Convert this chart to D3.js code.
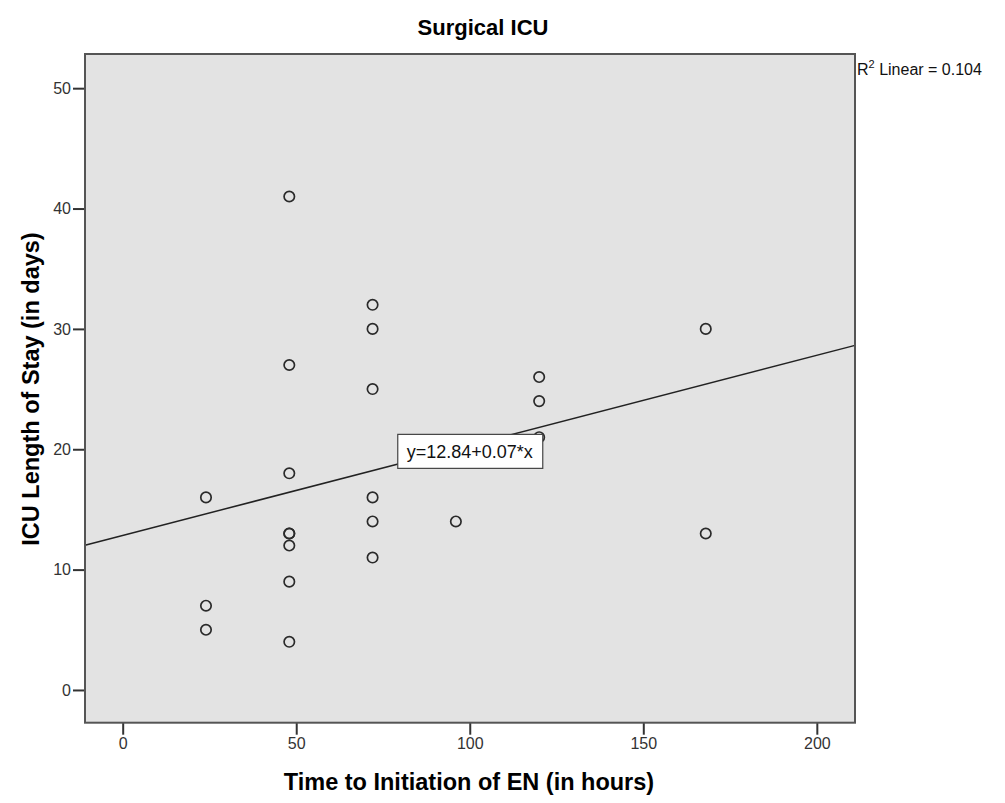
<!DOCTYPE html>
<html>
<head>
<meta charset="utf-8">
<script src="https://cdn.jsdelivr.net/npm/d3@7"></script>
<style>
  body { margin: 0; background: #fff; }
  text { font-family: "Liberation Sans", Arial, sans-serif; }
</style>
</head>
<body>
<div id="chart"></div>
<script>
// données
var hours = [24, 24, 24, 48, 48, 48, 48, 48, 48, 48, 48, 72, 72, 72, 72, 72, 72, 96, 120, 120, 120, 168, 168];
var stay  = [16, 7, 5, 41, 27, 18, 13, 13, 12, 9, 4, 32, 30, 25, 16, 14, 11, 14, 26, 24, 21, 30, 13];
var xTicks = [0, 50, 100, 150, 200];
var yTicks = [0, 10, 20, 30, 40, 50];

var width = 1005, height = 803;
// attention : "top" est réservé (window.top), donc autres noms
var plotL = 85, plotT = 54, plotR = 855, plotB = 722.7;

var svg = d3.select("#chart").append("svg")
    .attr("width", width)
    .attr("height", height);

var x = d3.scaleLinear().domain([-10.86, 211.0]).range([plotL, plotR]);
var y = d3.scaleLinear().domain([-2.72, 52.84]).range([plotB, plotT]);

// fond gris de la zone de tracé
svg.append("rect")
    .attr("x", plotL).attr("y", plotT)
    .attr("width", plotR - plotL).attr("height", plotB - plotT)
    .attr("fill", "#e3e3e3");

// régression linéaire (moindres carrés)
var mx = d3.mean(hours), my = d3.mean(stay);
var sxy = d3.sum(hours, function(d, i) { return (d - mx) * (stay[i] - my); });
var sxx = d3.sum(hours, function(d) { return (d - mx) * (d - mx); });
var syy = d3.sum(stay, function(d) { return (d - my) * (d - my); });
var slope = sxy / sxx;
var intercept = my - slope * mx;
var r2 = sxy * sxy / (sxx * syy);

var xd = x.domain();
svg.append("line")
    .attr("x1", x(xd[0])).attr("y1", y(intercept + slope * xd[0]))
    .attr("x2", x(xd[1])).attr("y2", y(intercept + slope * xd[1]))
    .attr("stroke", "#222")
    .attr("stroke-width", 1.5);

// points
svg.append("g").selectAll("circle")
    .data(hours)
    .join("circle")
    .attr("cx", function(d) { return x(d); })
    .attr("cy", function(d, i) { return y(stay[i]); })
    .attr("r", 5.2)
    .attr("fill", "none")
    .attr("stroke", "#2a2a2a")
    .attr("stroke-width", 1.7);

// étiquette de l'équation
var lx = 100;
var eq = svg.append("g")
    .attr("transform", "translate(" + x(lx) + "," + y(intercept + slope * lx) + ")");
eq.append("rect")
    .attr("x", -72).attr("y", -11)
    .attr("width", 145).attr("height", 34)
    .attr("fill", "#fff")
    .attr("stroke", "#444")
    .attr("stroke-width", 1.2);
eq.append("text")
    .attr("x", 0).attr("y", 13)
    .attr("text-anchor", "middle")
    .attr("font-size", 18)
    .attr("fill", "#111")
    .text("y=" + intercept.toFixed(2) + "+" + slope.toFixed(2) + "*x");

// axes
var xAxis = svg.append("g")
    .attr("transform", "translate(0," + plotB + ")")
    .call(d3.axisBottom(x).tickValues(xTicks).tickSize(12).tickPadding(3));
var yAxis = svg.append("g")
    .attr("transform", "translate(" + plotL + ",0)")
    .call(d3.axisLeft(y).tickValues(yTicks).tickSize(12).tickPadding(2));

[xAxis, yAxis].forEach(function(a) {
    a.select(".domain").remove();
    a.selectAll(".tick line").attr("stroke", "#333").attr("stroke-width", 2);
    a.selectAll(".tick text")
        .attr("font-size", 16)
        .attr("fill", "#333")
        .style("font-family", "'Liberation Sans', Arial, sans-serif");
});

// cadre
svg.append("rect")
    .attr("x", plotL).attr("y", plotT)
    .attr("width", plotR - plotL).attr("height", plotB - plotT)
    .attr("fill", "none")
    .attr("stroke", "#555")
    .attr("stroke-width", 2);

// titres
svg.append("text")
    .attr("x", 483).attr("y", 35)
    .attr("text-anchor", "middle")
    .attr("font-size", 22)
    .attr("font-weight", "bold")
    .text("Surgical ICU");

svg.append("text")
    .attr("x", 469).attr("y", 790)
    .attr("text-anchor", "middle")
    .attr("font-size", 23.5)
    .attr("font-weight", "bold")
    .text("Time to Initiation of EN (in hours)");

svg.append("text")
    .attr("transform", "translate(39,389) rotate(-90)")
    .attr("text-anchor", "middle")
    .attr("font-size", 23.5)
    .attr("font-weight", "bold")
    .text("ICU Length of Stay (in days)");

// R² en haut à droite
var rt = svg.append("text")
    .attr("x", 857).attr("y", 75)
    .attr("font-size", 16)
    .attr("fill", "#111");
rt.append("tspan").text("R");
rt.append("tspan").attr("font-size", 11).attr("dy", -7).text("2");
rt.append("tspan").attr("dy", 7).text(" Linear = " + r2.toFixed(3));
</script>
</body>
</html>
